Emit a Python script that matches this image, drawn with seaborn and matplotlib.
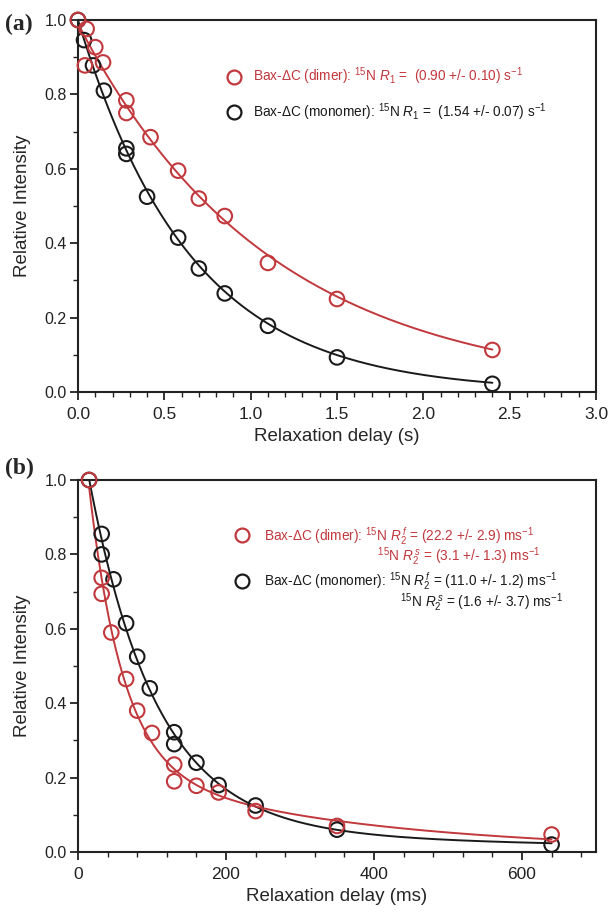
import numpy as np
import pandas as pd
import matplotlib
matplotlib.use("Agg")
import matplotlib.pyplot as plt
from matplotlib.lines import Line2D
from matplotlib.ticker import MultipleLocator
import seaborn as sns

# ---------------- data: panel (a) R1 ----------------
a_dimer_t = [0.0, 0.05, 0.04, 0.10, 0.145, 0.28, 0.28, 0.42, 0.58, 0.70, 0.85, 1.10, 1.50, 2.40]
a_dimer_i = [1.0, 0.976, 0.878, 0.927, 0.886, 0.784, 0.750, 0.685, 0.595, 0.520, 0.473, 0.347, 0.250, 0.113]
a_mono_t = [0.0, 0.035, 0.087, 0.15, 0.28, 0.28, 0.40, 0.58, 0.70, 0.85, 1.10, 1.50, 2.40]
a_mono_i = [1.0, 0.946, 0.878, 0.810, 0.655, 0.640, 0.525, 0.415, 0.332, 0.265, 0.178, 0.093, 0.022]
a_rate_dimer = 0.90   # s^-1
a_rate_mono = 1.54    # s^-1

# ---------------- data: panel (b) R2 ----------------
b_dimer_t = [15, 32, 32, 45, 65, 80, 100, 130, 130, 160, 190, 240, 350, 640]
b_dimer_i = [1.0, 0.737, 0.694, 0.590, 0.465, 0.380, 0.320, 0.235, 0.190, 0.178, 0.160, 0.110, 0.070, 0.047]
b_mono_t = [15, 32, 32, 48, 65, 80, 97, 130, 130, 160, 190, 240, 350, 640]
b_mono_i = [1.0, 0.855, 0.800, 0.733, 0.615, 0.525, 0.440, 0.322, 0.290, 0.240, 0.180, 0.125, 0.060, 0.020]
b_rates_dimer = (22.2, 3.1)   # fast, slow (per s; delay in ms)
b_rates_mono = (11.0, 1.6)

RED = "#c1383d"
BLACK = "#1a1a1a"

sns.set_theme(style="ticks")
plt.rcParams["font.family"] = ["Liberation Sans", "DejaVu Sans"]
plt.rcParams["mathtext.fontset"] = "custom"
plt.rcParams["mathtext.rm"] = "Liberation Sans"
plt.rcParams["mathtext.it"] = "Liberation Sans:italic"


def mono_fit(t, y, rate, tt):
    e = np.exp(-rate * np.asarray(t))
    amp = np.dot(e, y) / np.dot(e, e)
    return amp * np.exp(-rate * tt)


def bi_fit(t, y, rates, tt):
    t = np.asarray(t) / 1000.0
    M = np.column_stack([np.exp(-rates[0] * t), np.exp(-rates[1] * t)])
    coef, *_ = np.linalg.lstsq(M, np.asarray(y), rcond=None)
    ts = tt / 1000.0
    return coef[0] * np.exp(-rates[0] * ts) + coef[1] * np.exp(-rates[1] * ts)


fig = plt.figure(figsize=(6.12, 9.13), dpi=100)
W, H = 612, 913
ax1 = fig.add_axes([78 / W, 1 - 392 / H, 518 / W, 372 / H])
ax2 = fig.add_axes([78 / W, 1 - 852 / H, 518 / W, 372 / H])


def style_axis(ax):
    for s in ax.spines.values():
        s.set_linewidth(1.5)
        s.set_color("#222222")
    ax.tick_params(which="major", direction="out", length=6, width=1.3,
                   top=False, right=False, colors="#222222")
    ax.tick_params(which="minor", direction="out", length=3.5, width=1.0,
                   top=False, right=False, colors="#222222")
    ax.tick_params(axis="x", labelsize=12.5, pad=5)
    ax.tick_params(axis="y", labelsize=11.5, pad=2)
    ax.set_ylim(0, 1.0)
    ax.yaxis.set_major_locator(MultipleLocator(0.2))
    ax.yaxis.set_minor_locator(MultipleLocator(0.1))
    ax.set_ylabel("Relative Intensity", fontsize=13.5, labelpad=10)


def draw_series(ax, t, y, fit_t, fit_y, color):
    sns.lineplot(x=fit_t, y=fit_y, ax=ax, color=color, lw=1.4, zorder=2)
    sns.scatterplot(x=t, y=y, ax=ax, s=110, marker="o", facecolor="none",
                    edgecolor=color, linewidth=1.5, zorder=3, clip_on=False)


LEG_FS = 9.8

# ---------- panel (a) ----------
tt_a = np.linspace(0, max(a_dimer_t), 300)
draw_series(ax1, a_mono_t, a_mono_i, tt_a, mono_fit(a_mono_t, a_mono_i, a_rate_mono, tt_a), BLACK)
draw_series(ax1, a_dimer_t, a_dimer_i, tt_a, mono_fit(a_dimer_t, a_dimer_i, a_rate_dimer, tt_a), RED)
ax1.set_xlim(0, 3.0)
ax1.xaxis.set_major_locator(MultipleLocator(0.5))
ax1.xaxis.set_minor_locator(MultipleLocator(0.1))
style_axis(ax1)
ax1.set_xlabel("Relaxation delay (s)", fontsize=13.5, labelpad=4)

h_red = Line2D([], [], ls="none", marker="o", ms=10, mfc="none", mec=RED, mew=1.6)
h_blk = Line2D([], [], ls="none", marker="o", ms=10, mfc="none", mec=BLACK, mew=1.6)
leg_a = ax1.legend(
    [h_red, h_blk],
    [r"Bax-$\Delta$C (dimer): $^{15}$N $R_1$ =  (0.90 +/- 0.10) s$^{-1}$",
     r"Bax-$\Delta$C (monomer): $^{15}$N $R_1$ =  (1.54 +/- 0.07) s$^{-1}$"],
    loc="upper left", bbox_to_anchor=(0.262, 0.91), frameon=False,
    fontsize=LEG_FS, labelspacing=1.05, handletextpad=0.75, handlelength=1.2)
leg_a.get_texts()[0].set_color(RED)
leg_a.get_texts()[1].set_color(BLACK)

# ---------- panel (b) ----------
tt_b = np.linspace(min(b_dimer_t), max(b_dimer_t), 400)
draw_series(ax2, b_mono_t, b_mono_i, tt_b, bi_fit(b_mono_t, b_mono_i, b_rates_mono, tt_b), BLACK)
draw_series(ax2, b_dimer_t, b_dimer_i, tt_b, bi_fit(b_dimer_t, b_dimer_i, b_rates_dimer, tt_b), RED)
ax2.set_xlim(0, 700)
ax2.xaxis.set_major_locator(MultipleLocator(200))
ax2.xaxis.set_minor_locator(MultipleLocator(40))
style_axis(ax2)
ax2.set_xlabel("Relaxation delay (ms)", fontsize=13.5, labelpad=4)

blank = Line2D([], [], ls="none", marker=None)
leg_b1 = ax2.legend(
    [h_red, blank],
    [r"Bax-$\Delta$C (dimer): $^{15}$N $R_2^{\,f}$ = (22.2 +/- 2.9) ms$^{-1}$",
     "                              " + r"$^{15}$N $R_2^{\,s}$ = (3.1 +/- 1.3) ms$^{-1}$"],
    loc="upper left", bbox_to_anchor=(0.278, 0.913), frameon=False,
    fontsize=LEG_FS, labelspacing=-0.05, handletextpad=1.0, handlelength=1.2)
for txt in leg_b1.get_texts():
    txt.set_color(RED)
ax2.add_artist(leg_b1)
leg_b2 = ax2.legend(
    [h_blk, blank],
    [r"Bax-$\Delta$C (monomer): $^{15}$N $R_2^{\,f}$ = (11.0 +/- 1.2) ms$^{-1}$",
     "                                    " + r"$^{15}$N $R_2^{\,s}$ = (1.6 +/- 3.7) ms$^{-1}$"],
    loc="upper left", bbox_to_anchor=(0.278, 0.790), frameon=False,
    fontsize=LEG_FS, labelspacing=-0.05, handletextpad=1.0, handlelength=1.2)
for txt in leg_b2.get_texts():
    txt.set_color(BLACK)

fig.text(5 / W, 1 - 24 / H, "(a)", fontsize=17, fontweight="bold",
         family=["Liberation Serif", "DejaVu Serif"], va="center", ha="left")
fig.text(5 / W, 1 - 468 / H, "(b)", fontsize=17, fontweight="bold",
         family=["Liberation Serif", "DejaVu Serif"], va="center", ha="left")

fig.savefig("out.png", dpi=100)
